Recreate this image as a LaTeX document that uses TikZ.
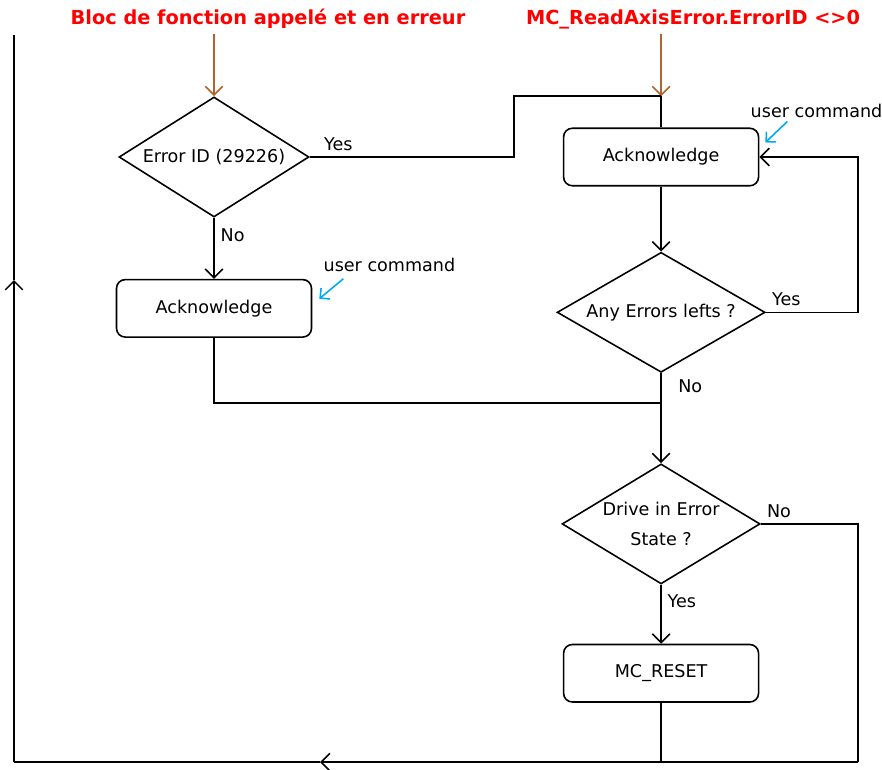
\documentclass[tikz,border=0pt]{standalone}
\usepackage{fontspec}
\setmainfont{DejaVu Sans}
\usetikzlibrary{shapes.geometric, arrows.meta, positioning}

\definecolor{titlered}{RGB}{255,0,0}
\definecolor{inbrown}{RGB}{178,98,42}
\definecolor{notecyan}{RGB}{0,170,240}

\begin{document}
\begin{tikzpicture}[
node distance=1.22cm and 5.06cm,
font=\fontsize{10}{17}\selectfont,
% Define block styles
process/.style = {rectangle, rounded corners=5pt, minimum width=3.9cm, minimum height=1.15cm, text centered, draw=black, line width=0.9pt},
decision/.style = {diamond, aspect=1.6, minimum width=3.8cm, minimum height=2.4cm, inner sep=0pt, text centered, align=center, draw=black, line width=0.9pt},
title/.style = {text=titlered, font=\fontsize{11}{12}\bfseries, inner sep=0pt, text height=1.6ex, text depth=0.4ex},
note/.style = {inner sep=0pt},
arrow/.style = {line width=0.9pt, -{Straight Barb[length=5pt, width=10pt]}},
inarrow/.style = {arrow, draw=inbrown},
notearrow/.style = {line width=0.9pt, draw=notecyan, -{Straight Barb[length=4pt, width=8pt]}},
line/.style = {line width=0.9pt}
]
\useasboundingbox (-4.28,-12.24) rectangle (13.36,3.14);

% Nodes
\node (errid) [decision] at (0,0) {Error ID (29226)};
\node (ackA) [process, below=of errid] {Acknowledge};
\node (ackB) [process, right=of errid] {Acknowledge};
\node (anyerr) [decision, minimum width=4.16cm, below=1.3cm of ackB] {Any Errors lefts ?};
\node (drive) [decision, minimum width=3.96cm, below=1.8cm of anyerr] {Drive in Error\\State ?};
\node (reset) [process, below=1.18cm of drive] {MC\_RESET};

% Inputs
\coordinate (joinB) at (ackB.north |- errid.north);
\coordinate [above=1.24cm of errid.north] (inA);
\coordinate [above=1.24cm of joinB] (inB);
\node (titleA) [title, above=0.12cm of inA, xshift=1.08cm] {Bloc de fonction appelé et en erreur};
\node (titleB) [title, above=0.12cm of inB, xshift=0.64cm] {MC\_ReadAxisError.ErrorID <>0};

% User commands
\node (cmdA) [note, above right=0.14cm and 0.22cm of ackA.north east] {user command};
\node (cmdB) [note, above right=0.18cm and -0.18cm of ackB.north east] {user command};
\coordinate (tipA) at ([shift={(0.14,-0.4)}]ackA.north east);
\coordinate (tipB) at ([shift={(0.12,-0.3)}]ackB.north east);

% Return loop
\coordinate [below=0.6cm of anyerr.south] (merge);
\coordinate (cornerR) at (12.88,-12.1);
\coordinate (midB) at (2.12,-12.1);
\coordinate (cornerL) at (-4.0,-12.1);
\coordinate (midL) at (-4.0,-2.46);
\coordinate (topL) at (-4.0,2.44);

% Arrows
\draw [inarrow] (inA) -- (errid.north);
\draw [inarrow] (inB) -- (joinB);
\draw [line] (errid.east) -- node[pos=0.14, above] {Yes} ++(4.08,0) |- (joinB);
\draw [line] (joinB) -- (ackB.north);
\draw [arrow] (errid.south) -- node[pos=0.28, right] {No} (ackA.north);
\draw [arrow] (ackB.south) -- (anyerr.north);
\draw [arrow] (anyerr.east) -| (cornerR |- anyerr.east) |- (ackB.east);
\node [above right] at (anyerr.east) {Yes};
\draw [line] (ackA.south) |- (merge);
\draw [arrow] (anyerr.south) -- node[pos=0.15, right=6pt] {No} (drive.north);
\draw [arrow] (drive.south) -- node[pos=0.28, right] {Yes} (reset.north);
\draw [line] (drive.east) -| (cornerR);
\node [above right] at (drive.east) {No};
\draw [line] (reset.south) -- (reset.south |- cornerR);
\draw [arrow] (cornerR) -- (midB);
\draw [line] (midB) -- (cornerL);
\draw [arrow] (cornerL) -- (midL);
\draw [line] (midL) -- (topL);

\draw [notearrow] ([shift={(0.48,0.4)}]tipA) -- (tipA);
\draw [notearrow] ([shift={(0.44,0.42)}]tipB) -- (tipB);
\end{tikzpicture}
\end{document}
